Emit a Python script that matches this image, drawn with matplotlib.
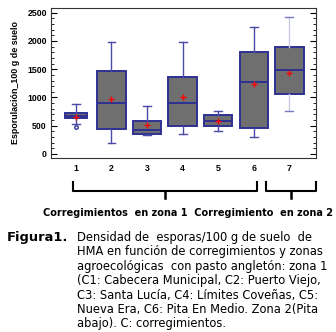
import matplotlib
matplotlib.use("Agg")
import matplotlib.pyplot as plt
from matplotlib.ticker import MultipleLocator

# --- datos ---
corregimientos = [1, 2, 3, 4, 5, 6, 7]
bigote_inf = [525, 200, 336, 354, 407, 295, 766]
q1 = [631, 442, 354, 501, 495, 454, 1055]
mediana = [672, 908, 425, 908, 584, 1268, 1492]
q3 = [719, 1462, 590, 1368, 696, 1810, 1899]
bigote_sup = [878, 1987, 855, 1987, 766, 2240, 2430]
media = [660, 967, 513, 1002, 590, 1232, 1439]
atipicos = [[472], [], [], [], [], [], []]
anchos = [0.6, 0.8, 0.8, 0.8, 0.8, 0.8, 0.8]

leyenda_x = "Corregimientos  en zona 1  Corregimiento  en zona 2"
pie = ["Densidad de  esporas/100 g de suelo  de",
       "HMA en función de corregimientos y zonas",
       "agroecológicas  con pasto angletón: zona 1",
       "(C1: Cabecera Municipal, C2: Puerto Viejo,",
       "C3: Santa Lucía, C4: Límites Coveñas, C5:",
       "Nueva Era, C6: Pita En Medio. Zona 2(Pita",
       "abajo). C: corregimientos."]

azul = "#2e3192"
gris = "#6f6f6f"

fig = plt.figure(figsize=(3.36, 3.32), dpi=100)
ax = fig.add_axes([51/336, 1 - 158/332, 265/336, 150/332])

stats = []
for i in range(len(corregimientos)):
    stats.append({"whislo": bigote_inf[i], "q1": q1[i], "med": mediana[i],
                  "q3": q3[i], "whishi": bigote_sup[i], "mean": media[i],
                  "fliers": atipicos[i]})

bp = ax.bxp(stats, positions=corregimientos, widths=anchos, patch_artist=True,
            showmeans=True, capwidths=0.22,
            boxprops=dict(facecolor=gris, edgecolor=azul, linewidth=1.4),
            medianprops=dict(color=azul, linewidth=1.4),
            whiskerprops=dict(color="#4a4aa8", linewidth=1.0),
            capprops=dict(color="#4a4aa8", linewidth=1.0),
            meanprops=dict(marker="+", markeredgecolor="red", markersize=4, markeredgewidth=1),
            flierprops=dict(marker="o", markerfacecolor="none", markeredgecolor=azul, markersize=2.5))
# el grupo 7 tiene bigotes claros
for ln in bp["whiskers"][12:14]:
    ln.set_color("#c9c9e6")
for ln in bp["caps"][12:14]:
    ln.set_color("#7a7ac0")

ax.set_xlim(0.3, 7.75)
ax.set_ylim(-71, 2583)
ax.yaxis.set_major_locator(MultipleLocator(500))
ax.yaxis.set_minor_locator(MultipleLocator(100))
ax.tick_params(axis="y", which="both", direction="in", left=True, right=True, labelsize=6.3, pad=3)
ax.tick_params(axis="y", which="major", length=4)
ax.tick_params(axis="y", which="minor", length=2)
ax.tick_params(axis="x", length=0, labelsize=6.3, pad=4)
for lab in ax.get_xticklabels() + ax.get_yticklabels():
    lab.set_fontfamily("Liberation Sans")
    lab.set_fontweight("bold")
for s in ax.spines.values():
    s.set_color("#333333")
    s.set_linewidth(0.8)
ax.set_ylabel("Esporulación_100 g de suelo", fontfamily="Liberation Sans",
              fontweight="bold", fontsize=6.4, labelpad=5)

# llaves debajo del eje
def llave(x0, x1, y_top, y_bot, y_tip):
    xm = (x0 + x1) / 2
    fig.add_artist(plt.Line2D([x0/336, x0/336, x1/336, x1/336],
                              [1 - y_top/332, 1 - y_bot/332, 1 - y_bot/332, 1 - y_top/332],
                              color="black", linewidth=1.5))
    fig.add_artist(plt.Line2D([xm/336, xm/336], [1 - y_bot/332, 1 - y_tip/332],
                              color="black", linewidth=1.8))

llave(73, 257, 182, 191, 198)
llave(266, 316, 182, 191, 198)

fig.text(188/336, 1 - 213/332, leyenda_x, ha="center", va="center",
         fontsize=7.0, fontweight="bold", fontfamily="DejaVu Sans")

fig.text(7/336, 1 - 237.5/332, "Figura1.", ha="left", va="center",
         fontsize=9.4, fontweight="bold", fontfamily="DejaVu Sans")
for k, linea in enumerate(pie):
    fig.text(77/336, 1 - (237.5 + 14.4*k)/332, linea, ha="left", va="center",
             fontsize=8.3, fontfamily="DejaVu Sans")

fig.savefig("out.png", dpi=100)
